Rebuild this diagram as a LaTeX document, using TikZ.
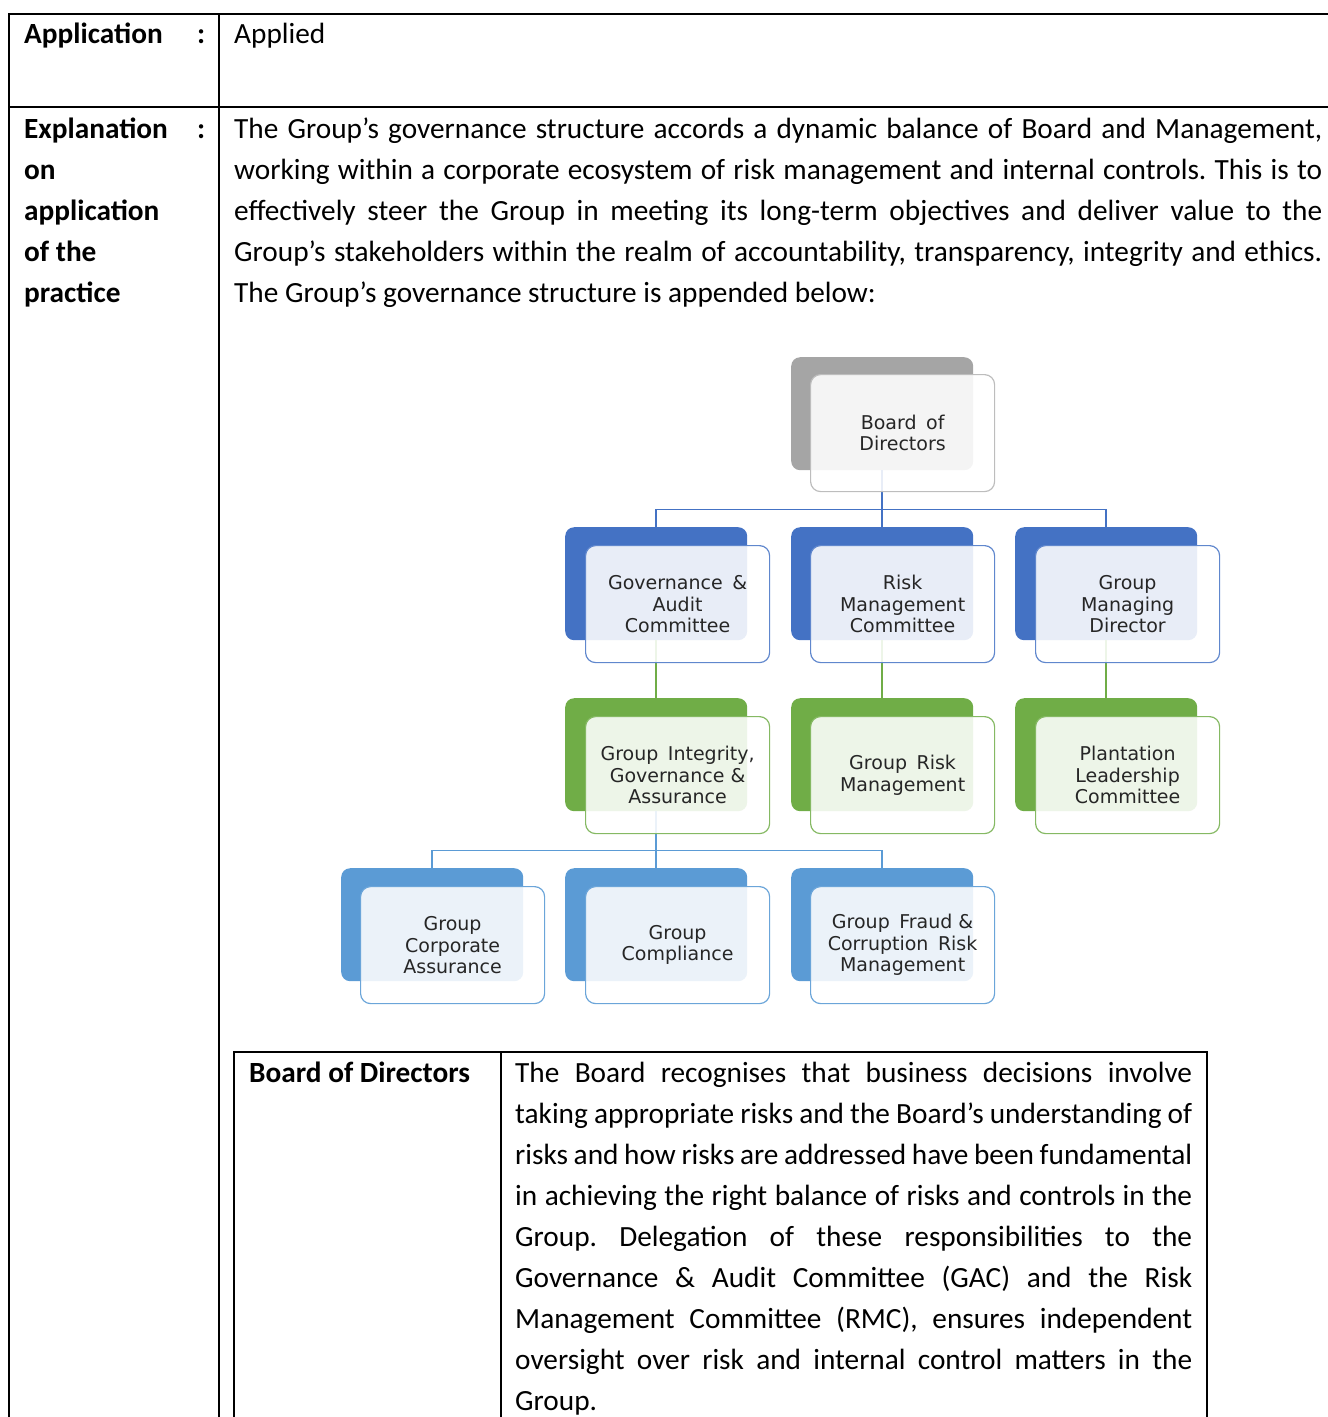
\documentclass[tikz,border=0pt]{standalone}
\usepackage{fontspec}
\setmainfont{Carlito}
\newfontfamily\chartfont{DejaVu Sans}
\definecolor{gback}{HTML}{A5A5A5}
\definecolor{gline}{HTML}{BDBDBD}
\definecolor{bback}{HTML}{4472C4}
\definecolor{gnback}{HTML}{70AD47}
\definecolor{lbback}{HTML}{5B9BD5}
\definecolor{ctext}{HTML}{262626}
\newcommand{\mainsize}{\fontsize{29.3}{41}\selectfont}
\frenchspacing
\begin{document}
\begin{tikzpicture}[x=1pt,y=-1pt,
  backbox/.style={rounded corners=9pt, inner sep=0pt, minimum width=182pt, minimum height=113pt, anchor=north west},
  frontbox/.style={rounded corners=10pt, draw=#1, line width=1.2pt, fill=white, fill opacity=0.88, text opacity=1, inner sep=2pt, minimum width=184pt, minimum height=117pt, anchor=north west, align=center, font=\chartfont\fontsize{19}{21.5}\selectfont, text=ctext},
  conn/.style={line width=1.8pt},
  rule/.style={line width=1.6pt, line cap=rect},
  txt/.style={inner sep=0pt, anchor=base west, font=\mainsize},
  btxt/.style={inner sep=0pt, anchor=base west, font=\mainsize\bfseries},
  para/.style={inner sep=0pt, anchor=north west, align=justify, font=\mainsize\frenchspacing},
]
\useasboundingbox (0,0) rectangle (1328,1417);

% outer table rules
\draw[rule] (9,14) -- (1328,14);
\draw[rule] (9,107) -- (1328,107);
\draw[rule] (9,14) -- (9,1417);
\draw[rule] (219,14) -- (219,1417);
% inner table rules
\draw[rule] (234,1417) -- (234,1052) -- (1207,1052) -- (1207,1417);
\draw[rule] (501,1052) -- (501,1417);

% left column texts
\node[btxt] (app) at (24,43) {Application};
\node[btxt] (col1) at (197,43) {:};
\node[txt] (applied) at (234,43) {Applied};
\node[btxt] (ex1) at (24,138) {Explanation};
\node[btxt] (col2) at (197,138) {:};
\node[btxt] (ex2) at (24,179) {on};
\node[btxt] (ex3) at (24,220) {application};
\node[btxt] (ex4) at (24,261) {of the};
\node[btxt] (ex5) at (24,302) {practice};

% explanation paragraph
\node[para, text width=1088pt] (expl) at (234,109.3) {\strut The Group’s governance structure accords a dynamic balance of Board and Management,\linebreak
working within a corporate ecosystem of risk management and internal controls. This is to\linebreak
effectively steer the Group in meeting its long-term objectives and deliver value to the\linebreak
Group’s stakeholders within the realm of accountability, transparency, integrity and ethics.\linebreak
The Group’s governance structure is appended below:};

% inner table texts
\node[btxt] (bodlbl) at (249,1082) {Board of Directors};
\node[para, text width=677pt] (bodtxt) at (515,1053.3) {\strut The Board recognises that business decisions involve\linebreak
taking appropriate risks and the Board’s understanding of\linebreak
risks and how risks are addressed have been fundamental\linebreak
in achieving the right balance of risks and controls in the\linebreak
Group. Delegation of these responsibilities to the\linebreak
Governance \& Audit Committee (GAC) and the Risk\linebreak
Management Committee (RMC), ensures independent\linebreak
oversight over risk and internal control matters in the\linebreak
Group.};

% back boxes
\node[backbox, fill=gback] (bodB) at (791,357) {};
\node[backbox, fill=bback] (gacB) at (565,527) {};
\node[backbox, fill=bback] (rmcB) at (791,527) {};
\node[backbox, fill=bback] (gmdB) at (1015,527) {};
\node[backbox, fill=gnback] (gigaB) at (565,698) {};
\node[backbox, fill=gnback] (grmB) at (791,698) {};
\node[backbox, fill=gnback] (plcB) at (1015,698) {};
\node[backbox, fill=lbback] (gcaB) at (341,868) {};
\node[backbox, fill=lbback] (gcB) at (565,868) {};
\node[backbox, fill=lbback] (gfcB) at (791,868) {};

% connectors
\path (bodB.south) ++(0,39) coordinate (bus1);
\draw[conn, draw=bback] (bodB.south) -- (rmcB.north);
\draw[conn, draw=bback] (gacB.north) |- (bus1) -| (gmdB.north);
\draw[conn, draw=gnback] (gacB.south) -- (gigaB.north);
\draw[conn, draw=gnback] (rmcB.south) -- (grmB.north);
\draw[conn, draw=gnback] (gmdB.south) -- (plcB.north);
\path (gigaB.south) ++(0,39) coordinate (bus2);
\draw[conn, draw=lbback] (gigaB.south) -- (gcB.north);
\draw[conn, draw=lbback] (gcaB.north) |- (bus2) -| (gfcB.north);

% front boxes
\node[frontbox=gline] (bod) at (810,374) {Board\hspace{0.5em}of\\Directors};
\node[frontbox=bback!85] (gac) at (585,545) {Governance\hspace{0.5em}\&\\Audit\\Committee};
\node[frontbox=bback!85] (rmc) at (810,545) {Risk\\Management\\Committee};
\node[frontbox=bback!85] (gmd) at (1035,545) {Group\\Managing\\Director};
\node[frontbox=gnback!85] (giga) at (585,716) {Group\hspace{0.5em}Integrity,\\Governance \&\\Assurance};
\node[frontbox=gnback!85] (grm) at (810,716) {Group\hspace{0.5em}Risk\\Management};
\node[frontbox=gnback!85] (plc) at (1035,716) {Plantation\\Leadership\\Committee};
\node[frontbox=lbback!90] (gca) at (360,886) {Group\\Corporate\\Assurance};
\node[frontbox=lbback!90] (gc) at (585,886) {Group\\Compliance};
\node[frontbox=lbback!90] (gfc) at (810,886) {Group\hspace{0.5em}Fraud \&\\Corruption\hspace{0.5em}Risk\\Management};
\end{tikzpicture}
\end{document}
